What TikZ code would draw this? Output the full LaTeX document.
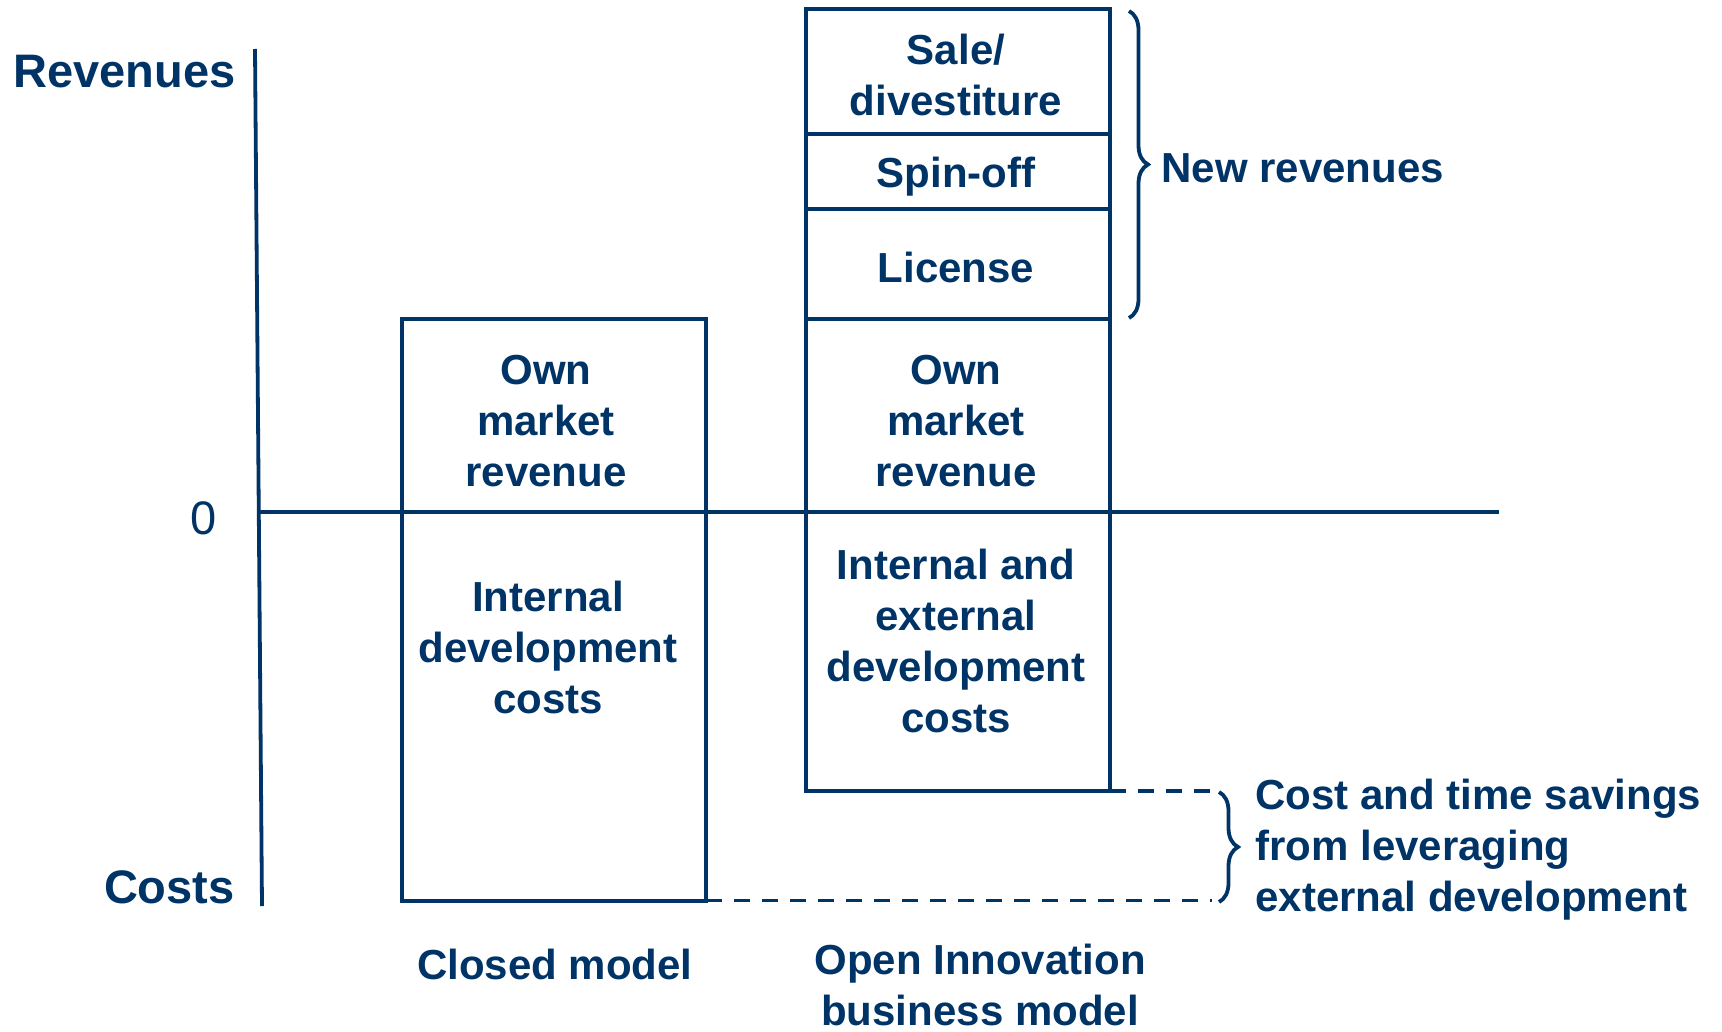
\documentclass[tikz,border=0pt]{standalone}
\usepackage{fontspec}
\setmainfont{Liberation Sans}
\usetikzlibrary{decorations.pathreplacing}
\definecolor{navy}{RGB}{0,51,102}
\begin{document}
\begin{tikzpicture}[x=0.5pt,y=-0.5pt]
\tikzset{
  cell/.style={draw=navy, line width=2pt, minimum width=152pt, inner sep=0pt, outer sep=0pt},
  txt/.style={text=navy, font=\bfseries\fontsize{21}{25.5}\selectfont, align=center, inner sep=0pt},
  axlabel/.style={text=navy, font=\bfseries\fontsize{23.5}{28}\selectfont, inner sep=0pt},
  axline/.style={draw=navy, line width=1.9pt},
  dashline/.style={draw=navy, line width=1.9pt, dash pattern=on 8pt off 6pt},
  bracestyle/.style={draw=navy, line width=1.9pt, decorate, decoration={brace, amplitude=9.5pt}}
}
\useasboundingbox (0,0) rectangle (1722,1032);
% axes
\coordinate (axtop) at (255,49);
\coordinate (axbot) at (262,906);
\draw[axline] (axtop) -- (axbot);
% closed model cells
\node[cell, minimum height=96.75pt] (cown) at (554,415.25) {};
\node[cell, minimum height=194.25pt] (cint) at (554,706.25) {};
% open model cells
\node[cell, minimum height=62.5pt] (osale) at (958,71.5) {};
\node[cell, minimum height=37.5pt] (ospin) at (958,171.5) {};
\node[cell, minimum height=54.75pt] (olic) at (958,263.75) {};
\node[cell, minimum height=96.75pt] (oown) at (958,415.25) {};
\node[cell, minimum height=139.5pt] (oint) at (958,651.5) {};
% zero line
\coordinate (z0) at (259,512);
\coordinate (z1) at (1499,512);
\draw[axline] (z0) -- (z1);
% axis labels
\node[axlabel, anchor=east] (rev) at (236,72) {Revenues};
\node[axlabel, anchor=east] (cst) at (235,887) {Costs};
\node[text=navy, font=\fontsize{23.5}{28}\selectfont, inner sep=0pt] (zero) at (204,518) {0};
% texts in cells
\node[txt] (tcown) at (546,421) {Own\\market\\revenue};
\node[txt] (tcint) at (548,647) {Internal\\development\\costs};
\node[txt] (tosale) at (956,75) {Sale/\\divestiture};
\node[txt] (tospin) at (956,177) {Spin-off};
\node[txt] (tolic) at (956,267) {License};
\node[txt] (toown) at (956,421) {Own\\market\\revenue};
\node[txt] (toint) at (956,641) {Internal and\\external\\development\\costs};
% model labels
\node[txt] (lclosed) at (555,964) {Closed model};
\node[txt] (lopen) at (980,985) {Open Innovation\\business model};
% new revenues brace
\coordinate (b1t) at (1129,11);
\coordinate (b1b) at (1129,318);
\draw[bracestyle] (b1t) -- (b1b);
\node[txt, anchor=west] (newrev) at (1161,168) {New revenues};
% dashed lines
\coordinate (d1) at (1212,791);
\coordinate (d2) at (1212,900.5);
\draw[dashline] (oint.south east) -- (d1);
\draw[dashline] (cint.south east) -- (d2);
% savings brace
\coordinate (b2t) at (1219,792);
\coordinate (b2b) at (1219,902);
\draw[bracestyle] (b2t) -- (b2b);
\node[txt, anchor=west, align=left] (savings) at (1255,850) {Cost and time savings\\from leveraging\\external development};
\end{tikzpicture}
\end{document}
